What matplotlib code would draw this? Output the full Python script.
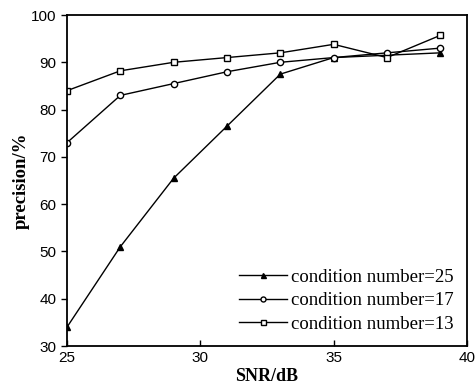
import matplotlib
matplotlib.use("Agg")
import matplotlib.pyplot as plt

snr = [25, 27, 29, 31, 33, 35, 37, 39]
prec_25 = [34, 51, 65.5, 76.5, 87.5, 91, 91.5, 92]
prec_17 = [73, 83, 85.5, 88, 90, 91, 92, 93]
prec_13 = [84, 88.2, 90, 91, 92, 93.8, 91, 95.7]
labels = ["condition number=25", "condition number=17", "condition number=13"]
xticks = [25, 30, 35, 40]
yticks = [30, 40, 50, 60, 70, 80, 90, 100]

fig = plt.figure(figsize=(4.77, 3.9), dpi=100)
ax = fig.add_axes([0.1405, 0.1128, 0.8385, 0.8487])

ax.plot(snr, prec_25, color="black", lw=1, marker="^", ms=4.5, mfc="black", label=labels[0])
ax.plot(snr, prec_17, color="black", lw=1, marker="o", ms=4.5, mfc="white", label=labels[1])
ax.plot(snr, prec_13, color="black", lw=1, marker="s", ms=4.5, mfc="white", label=labels[2])

ax.set_xlim(25, 40)
ax.set_ylim(30, 100)
ax.set_xticks(xticks)
ax.set_yticks(yticks)
ax.tick_params(axis="x", direction="in", length=4, width=1, labelsize=11)
ax.tick_params(axis="y", direction="out", length=4, width=1, labelsize=11)
for lab in ax.get_xticklabels() + ax.get_yticklabels():
    lab.set_family("Liberation Sans")
for sp in ax.spines.values():
    sp.set_linewidth(1.3)

ax.set_xlabel("SNR/dB", family="Liberation Serif", fontsize=13, fontweight="bold", labelpad=2)
ax.set_ylabel("precision/%", family="Liberation Serif", fontsize=13.5, fontweight="bold", labelpad=1)

leg = ax.legend(loc="lower right", frameon=False, prop={"family": "Liberation Serif", "size": 13.5},
                handlelength=2.6, handletextpad=0.2, labelspacing=0.35, borderaxespad=0.3,
                markerscale=0.8)

fig.savefig("out.png", dpi=100)
